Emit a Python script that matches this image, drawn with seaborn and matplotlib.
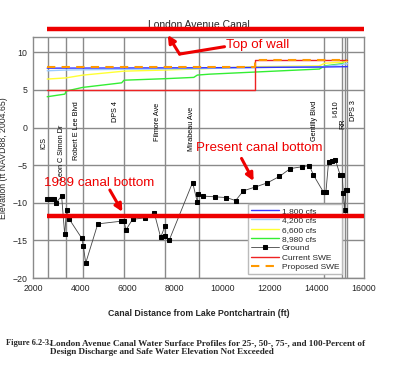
import numpy as np
import pandas as pd
import matplotlib
matplotlib.use("Agg")
import matplotlib.pyplot as plt
import seaborn as sns

sns.set_theme(style="white")
plt.rcParams['font.family'] = ['Liberation Sans', 'DejaVu Sans']

# ---------------- data ----------------
q1800_x = [2600, 9000, 14300, 15300]
q1800_y = [7.9, 7.95, 8.05, 8.1]
q4200_x = [2600, 3380, 5850, 9000, 12000, 14300, 15100, 15300]
q4200_y = [7.55, 7.65, 7.75, 7.85, 8.0, 8.1, 8.4, 8.5]
q6600_x = [2600, 3380, 4100, 5850, 7600, 9000, 11400, 14100, 14340, 15100, 15300]
q6600_y = [6.45, 6.6, 6.97, 7.5, 7.65, 7.8, 8.1, 8.2, 8.55, 8.7, 8.85]
q8980_x = [2600, 3350, 3400, 4100, 5750, 5850, 7600, 8800, 8950, 9460, 14110, 14340, 15090, 15190, 15300]
q8980_y = [4.1, 4.45, 4.85, 5.34, 5.95, 6.3, 6.5, 6.67, 6.98, 7.1, 7.78, 8.2, 8.5, 8.88, 8.9]
cur_swe_x = [2600, 11400, 11400, 15300]
cur_swe_y = [5.0, 5.0, 9.0, 9.0]
prop_swe_x = [2600, 11400, 11400, 15300]
prop_swe_y = [8.0, 8.0, 9.0, 9.0]
ground_x = [2600, 2700, 2800, 2900, 2970, 3210, 3340, 3420, 3540, 4060, 4130, 4230,
            4740, 5710, 5850, 5930, 6210, 6720, 7130, 7400, 7580, 7600, 7770, 8750,
            8950, 8980, 9180, 9680, 10180, 10570, 10900, 11400, 11910, 12420, 12880,
            13390, 13690, 13860, 14280, 14390, 14500, 14650, 14790, 14990, 15080,
            15120, 15180, 15230, 15280]
ground_y = [-9.45, -9.45, -9.45, -9.45, -10.0, -9.1, -14.2, -10.9, -12.2, -14.7, -15.8, -18.0,
            -12.8, -12.45, -12.45, -13.6, -12.2, -12.0, -11.35, -14.6, -13.1, -14.45, -14.9, -7.3,
            -9.9, -8.8, -9.1, -9.2, -9.3, -9.7, -8.4, -7.9, -7.35, -6.5, -5.45,
            -5.2, -5.05, -6.3, -8.55, -8.55, -4.6, -4.45, -4.3, -6.3, -6.3,
            -8.7, -11.0, -8.3, -8.3]
landmark_names = ["ICS", "Leon C Simon Dr", "Robert E Lee Blvd", "DPS 4", "Filmore Ave",
                  "Mirabeau Ave", "Gentilly Blvd", "I-610", "RR", "DPS 3"]
landmark_x = [2620, 3380, 4100, 5850, 7600, 9020, 14290, 15090, 15190, 15270]
top_of_wall = 13.06
bottom_1989 = -11.75
x_ticks = [2000, 4000, 6000, 8000, 10000, 12000, 14000, 16000]
y_ticks = [-20, -15, -10, -5, 0, 5, 10]

# ---------------- figure ----------------
fig = plt.figure(figsize=(4.0, 3.83), dpi=100)
ax = fig.add_axes([0.0825, 0.274, 0.8275, 0.6286])
ax.set_xlim(2000, 16000)
ax.set_ylim(-20, 12)

grid_c = "#8a8a8a"
for yv in y_ticks:
    ax.axhline(yv, color=grid_c, lw=1.0, zorder=0)
for xv in landmark_x:
    ax.axvline(xv, color=grid_c, lw=1.0, zorder=0)

def line(xs, ys, **kw):
    df = pd.DataFrame({"x": xs, "y": ys})
    sns.lineplot(data=df, x="x", y="y", ax=ax, sort=False, estimator=None, **kw)

line(q8980_x, q8980_y, color="#33ee33", lw=1.0, label="8,980 cfs", zorder=3)
line(q6600_x, q6600_y, color="#ffff33", lw=1.0, label="6,600 cfs", zorder=3)
line(q4200_x, q4200_y, color="#99ccff", lw=1.0, label="4,200 cfs", zorder=3)
line(q1800_x, q1800_y, color="#3333ff", lw=1.0, label="1,800 cfs", zorder=4)
line(cur_swe_x, cur_swe_y, color="#ee2222", lw=1.0, label="Current SWE", zorder=3)
line(prop_swe_x, prop_swe_y, color="#ff9900", lw=1.5, linestyle=(0, (4, 3)),
     label="Proposed SWE", zorder=5)
line(ground_x, ground_y, color="#444444", lw=0.6, marker="s", markersize=2.6,
     markerfacecolor="black", markeredgecolor="black", label="Ground", zorder=4)

# landmark labels
lab_top = {"ICS": -1.2, "Leon C Simon Dr": 0.4, "Robert E Lee Blvd": 3.5, "DPS 4": 3.5,
           "Filmore Ave": 3.3, "Mirabeau Ave": 2.8, "Gentilly Blvd": 3.6, "I-610": 3.6,
           "RR": 1.2, "DPS 3": 3.6}
lab_dx = {"ICS": -150, "Leon C Simon Dr": -190, "Robert E Lee Blvd": -260, "DPS 4": -380,
          "Filmore Ave": -320, "Mirabeau Ave": -320, "Gentilly Blvd": -380, "I-610": -300,
          "RR": -90, "DPS 3": 290}
for n, xv in zip(landmark_names, landmark_x):
    ax.text(xv + lab_dx[n], lab_top[n], n, rotation=90, ha="center", va="top",
            fontsize=5.2, color="black")

ax.set_xticks(x_ticks)
ax.set_yticks(y_ticks)
ax.tick_params(labelsize=6.3, length=0, pad=4)
ax.set_xlabel("Canal Distance from Lake Pontchartrain (ft)", fontsize=6.3, fontweight="bold", labelpad=12)
ax.set_ylabel("Elevation (ft NAVD88, 2004.65)", fontsize=6.3, labelpad=3)
for s in ax.spines.values():
    s.set_color(grid_c)
    s.set_linewidth(1.0)

# legend
h, l = ax.get_legend_handles_labels()
order = ["1,800 cfs", "4,200 cfs", "6,600 cfs", "8,980 cfs", "Ground", "Current SWE", "Proposed SWE"]
hd = dict(zip(l, h))
leg = ax.legend([hd[o] for o in order], order, loc="lower left", bbox_to_anchor=(0.65, 0.017),
                fontsize=6, frameon=True, fancybox=False, framealpha=1, edgecolor="#bbbbbb",
                handlelength=3.4, labelspacing=0.18, borderpad=0.35, handletextpad=0.3,
                borderaxespad=0)
leg.set_zorder(6)

# annotations
red = "#ee0000"
ax.plot([2580, 16000], [top_of_wall, top_of_wall], color=red, lw=3.2, clip_on=False, zorder=7,
        solid_capstyle="butt")
ax.text(0.5, 1.05, "London Avenue Canal", transform=ax.transAxes, ha="center", va="center",
        fontsize=7.5, zorder=6)
ax.plot([2580, 16000], [bottom_1989, bottom_1989], color=red, lw=3.2, zorder=7,
        solid_capstyle="butt", clip_on=False)

ax.text(10150, 10.95, "Top of wall", color=red, fontsize=9.6, va="center", ha="left", zorder=8)
ax.plot([10100, 8200], [10.75, 9.77], color=red, lw=2.2, zorder=8, clip_on=False,
        solid_capstyle="round")
ax.annotate("", xy=(7700, 12.3), xytext=(8200, 9.77),
            arrowprops=dict(arrowstyle="-|>", color=red, lw=2.2, mutation_scale=11,
                            shrinkA=0, shrinkB=0), zorder=8, annotation_clip=False)

ax.text(8900, -2.7, "Present canal bottom", color=red, fontsize=9.6, va="center", ha="left", zorder=8)
ax.annotate("", xy=(11330, -7.1), xytext=(10820, -4.1),
            arrowprops=dict(arrowstyle="-|>", color=red, lw=2.2, mutation_scale=11,
                            shrinkA=0, shrinkB=0), zorder=8)

ax.text(2480, -7.3, "1989 canal bottom", color=red, fontsize=9.6, va="center", ha="left", zorder=8)
ax.annotate("", xy=(5780, -11.2), xytext=(5250, -8.3),
            arrowprops=dict(arrowstyle="-|>", color=red, lw=2.2, mutation_scale=11,
                            shrinkA=0, shrinkB=0), zorder=8)

# caption
cap_font = ["Liberation Serif", "DejaVu Serif"]
fig.text(6 / 400, 1 - 343 / 383, "Figure 6.2-3.", fontsize=6.0, fontweight="bold",
         family=cap_font, va="center", ha="left")
fig.text(50 / 400, 1 - 343 / 383,
         "London Avenue Canal Water Surface Profiles for 25-, 50-, 75-, and 100-Percent of",
         fontsize=6.6, fontweight="bold", family=cap_font, va="center", ha="left")
fig.text(50 / 400, 1 - 351.5 / 383, "Design Discharge and Safe Water Elevation Not Exceeded",
         fontsize=6.6, fontweight="bold", family=cap_font, va="center", ha="left")

fig.savefig("out.png", dpi=100, facecolor="white")
